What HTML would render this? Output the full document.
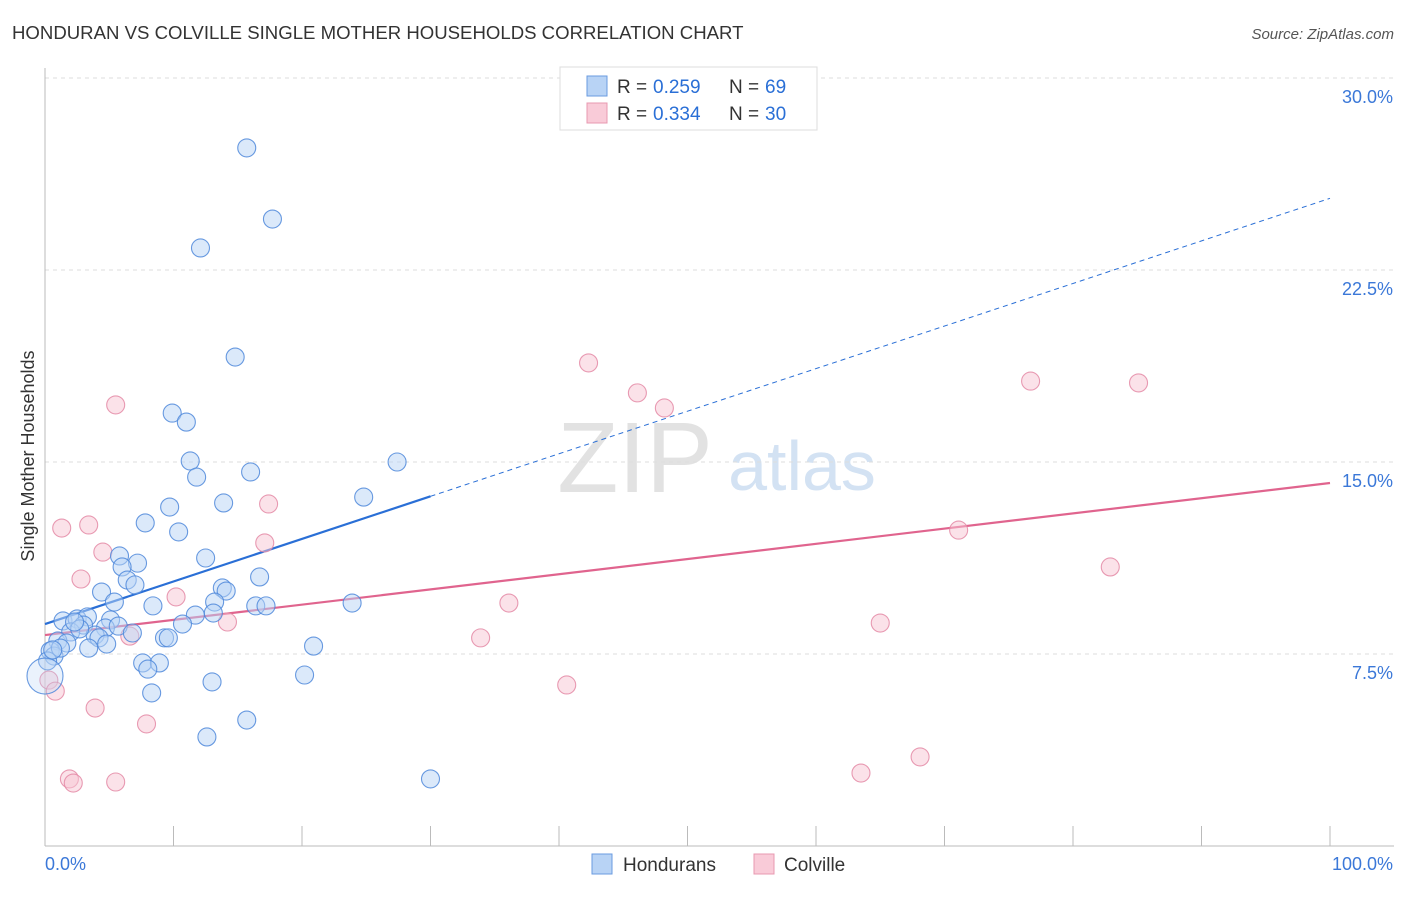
<!DOCTYPE html>
<html><head><meta charset="utf-8"><style>
body{margin:0;background:#fff;font-family:"Liberation Sans",sans-serif}
svg text{font-family:"Liberation Sans",sans-serif}
</style></head><body>
<svg id="chart" width="1406" height="892" viewBox="0 0 1406 892">
<text x="12" y="39" font-size="18.6" fill="#333">HONDURAN VS COLVILLE SINGLE MOTHER HOUSEHOLDS CORRELATION CHART</text>
<text x="1394" y="39" font-size="15" fill="#555" font-style="italic" text-anchor="end">Source: ZipAtlas.com</text>
<g>
<text x="635" y="492" font-size="100" fill="#e2e2e2" font-family="Liberation Serif" text-anchor="middle">ZIP</text>
<text x="802" y="490" font-size="70" fill="#d3e2f3" text-anchor="middle">atlas</text>
</g>
<g id="grid"></g>
<g id="axes"></g>
<text transform="translate(34,456) rotate(-90)" font-size="18" fill="#333" text-anchor="middle">Single Mother Households</text>
<g id="lines"></g>
<g id="pts"></g>
<g>
<rect x="560" y="67" width="257" height="63" fill="#fff" stroke="#ddd"/>
<rect x="587" y="76" width="20" height="20" fill="#b8d3f5" stroke="#6a9be0"/>
<text x="617" y="93" font-size="19" fill="#333">R =</text>
<text x="653" y="93" font-size="19" fill="#2a6fd6">0.259</text>
<text x="729" y="93" font-size="19" fill="#333">N =</text>
<text x="765" y="93" font-size="19" fill="#2a6fd6">69</text>
<rect x="587" y="103" width="20" height="20" fill="#f9cbd8" stroke="#e898b0"/>
<text x="617" y="120" font-size="19" fill="#333">R =</text>
<text x="653" y="120" font-size="19" fill="#2a6fd6">0.334</text>
<text x="729" y="120" font-size="19" fill="#333">N =</text>
<text x="765" y="120" font-size="19" fill="#2a6fd6">30</text>
</g>
<g>
<rect x="592" y="854" width="20" height="20" fill="#b8d3f5" stroke="#6a9be0"/>
<text x="623" y="871" font-size="19" fill="#333">Hondurans</text>
<rect x="754" y="854" width="20" height="20" fill="#f9cbd8" stroke="#e898b0"/>
<text x="784" y="871" font-size="19" fill="#333">Colville</text>
</g>
</svg>
<script>
const yTicks=[7.5,15,22.5,30];
const yTickLabels=["7.5%","15.0%","22.5%","30.0%"];
const xTickCount=10;
const blueX=[15.7,17.7,12.1,14.8,9.9,11.0,11.3,16.0,11.8,27.4,24.8,13.9,9.7,7.8,10.4,12.5,5.8,7.2,6.0,16.7,6.4,7.0,13.8,14.1,4.4,5.4,8.4,13.2,16.4,17.2,23.9,1.4,2.5,3.3,11.7,13.1,5.1,3.0,4.7,10.7,5.7,2.0,3.9,4.2,9.3,9.6,6.8,1.0,1.7,3.4,4.8,20.9,0.4,0.7,0.2,7.6,8.9,8.0,20.2,13.0,8.3,15.7,12.6,30.0,0.0,1.2,2.7,0.6,2.3];
const blueY=[27.27,24.49,23.36,19.10,16.91,16.56,15.04,14.61,14.41,15.0,13.63,13.40,13.24,12.62,12.27,11.25,11.33,11.05,10.90,10.51,10.39,10.20,10.08,9.96,9.92,9.53,9.38,9.53,9.38,9.38,9.49,8.79,8.87,8.95,9.02,9.10,8.83,8.63,8.52,8.67,8.59,8.36,8.24,8.13,8.13,8.13,8.32,8.01,7.93,7.73,7.89,7.81,7.62,7.42,7.23,7.15,7.15,6.91,6.68,6.41,5.98,4.92,4.26,2.62,6.64,7.73,8.48,7.66,8.75];
const pinkX=[5.5,42.3,46.1,48.2,76.7,85.1,1.3,3.4,4.5,17.1,17.4,2.8,71.1,82.9,10.2,36.1,14.2,6.6,33.9,65.0,0.3,0.8,3.9,40.6,7.9,1.9,2.2,5.5,63.5,68.1];
const pinkY=[17.23,18.87,17.70,17.11,18.16,18.09,12.42,12.54,11.48,11.84,13.36,10.43,12.34,10.90,9.73,9.49,8.75,8.20,8.13,8.71,6.48,6.05,5.39,6.29,4.77,2.62,2.46,2.50,2.85,3.48];
const blueTrend=[8.67,25.3];
const pinkTrend=[8.24,14.18];
const blueSolidEnd=30;

const NS="http://www.w3.org/2000/svg";
const X=v=>45+v*12.85;
const Y=v=>846-v*25.6;
function mk(tag,attrs,parent){const e=document.createElementNS(NS,tag);for(const k in attrs)e.setAttribute(k,attrs[k]);parent.appendChild(e);return e;}
const grid=document.getElementById('grid'),axes=document.getElementById('axes'),lines=document.getElementById('lines'),pts=document.getElementById('pts');
yTicks.forEach((t,i)=>{
  const l=mk('line',{x1:45,x2:1394,y1:Y(t),y2:Y(t),stroke:'#ddd','stroke-dasharray':'4,4'},grid);
  
  
  const tx=mk('text',{x:1393,y:Y(t)+25,'font-size':18,fill:'#3b78d8','text-anchor':'end'},axes);
  tx.textContent=yTickLabels[i];
  
  
});
let a=mk('line',{x1:45,x2:45,y1:68,y2:846,stroke:'#bbb'},axes);


a=mk('line',{x1:45,x2:1394,y1:846,y2:846,stroke:'#bbb'},axes);


for(let i=0;i<=xTickCount;i++){
  const t=mk('line',{x1:X(i*10),x2:X(i*10),y1:826,y2:846,stroke:'#bbb'},axes);
  
  
}
let xl=mk('text',{x:45,y:870,'font-size':18,fill:'#3b78d8'},axes);xl.textContent='0.0%';


xl=mk('text',{x:1393,y:870,'font-size':18,fill:'#3b78d8','text-anchor':'end'},axes);xl.textContent='100.0%';



const bAt=x=>blueTrend[0]+(blueTrend[1]-blueTrend[0])*x/100;
const pAt=x=>pinkTrend[0]+(pinkTrend[1]-pinkTrend[0])*x/100;

function dot(x,y,fill,stroke,name,r,op){
  const c=mk('circle',{cx:X(x),cy:Y(y),r:r||9,fill:fill,'fill-opacity':op||0.5,stroke:stroke,'stroke-width':1.1,'stroke-opacity':0.85},pts);
  
  
}
pinkX.forEach((x,i)=>dot(x,pinkY[i],'#f8c6d4','#e48aa6','colville-point'));
blueX.forEach((x,i)=>dot(x,blueY[i],'#b8d3f5','#4f88db','honduran-point',(x===0?18:9),(x===0?0.3:0.5)));

let tl=mk('line',{x1:X(0),y1:Y(pAt(0)),x2:X(100),y2:Y(pAt(100)),stroke:'#e0648e','stroke-width':2.2},lines);


tl=mk('line',{x1:X(0),y1:Y(bAt(0)),x2:X(blueSolidEnd),y2:Y(bAt(blueSolidEnd)),stroke:'#2a6fd6','stroke-width':2.2},lines);


tl=mk('line',{x1:X(blueSolidEnd),y1:Y(bAt(blueSolidEnd)),x2:X(100),y2:Y(bAt(100)),stroke:'#2a6fd6','stroke-width':1,'stroke-dasharray':'5,4'},lines);


</script>
</body></html>
